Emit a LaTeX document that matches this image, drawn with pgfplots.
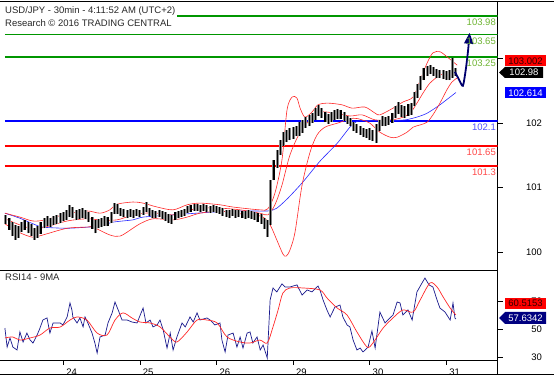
\documentclass[border=0pt]{standalone}
\usepackage{fontspec}
\setmainfont{Liberation Sans}
\usepackage{pgfplots}
\pgfplotsset{compat=1.18}
\usepackage{pgfplotstable}
\usetikzlibrary{arrows.meta}

\definecolor{lvlgreen}{RGB}{0,150,0}
\definecolor{lvlgreentxt}{RGB}{110,180,50}
\definecolor{lvlblue}{RGB}{0,0,255}
\definecolor{lvlbluetxt}{RGB}{80,80,255}
\definecolor{lvlred}{RGB}{255,0,0}
\definecolor{lvlredtxt}{RGB}{255,70,70}
\definecolor{bbred}{RGB}{255,40,40}
\definecolor{maBlue}{RGB}{40,40,255}
\definecolor{rsiblue}{RGB}{25,25,140}
\definecolor{navyarrow}{RGB}{0,0,110}
\definecolor{boxnavy}{RGB}{0,0,128}
\definecolor{titlegray}{RGB}{40,40,40}
\definecolor{bargray}{RGB}{140,140,140}

% hourly bars: i = hours from first bar, l = low, h = high
\pgfplotstableread{
i l h
0 100.26 100.42
1 100.15 100.36
2 100.04 100.29
3 99.97 100.24
4 100.01 100.22
5 100.11 100.29
6 100.15 100.33
7 100.09 100.29
8 100.04 100.26
9 99.97 100.18
10 100.01 100.22
11 100.08 100.29
12 100.18 100.36
13 100.22 100.40
14 100.20 100.36
15 100.24 100.40
16 100.26 100.42
17 100.27 100.45
18 100.31 100.47
19 100.33 100.51
20 100.38 100.60
21 100.36 100.56
22 100.33 100.51
23 100.35 100.52
24 100.36 100.54
25 100.35 100.51
26 100.29 100.47
27 100.17 100.38
28 100.09 100.33
29 100.18 100.35
30 100.20 100.36
31 100.22 100.40
32 100.22 100.38
33 100.27 100.47
34 100.44 100.63
35 100.44 100.61
36 100.40 100.54
37 100.38 100.52
38 100.36 100.51
39 100.38 100.52
40 100.36 100.51
41 100.40 100.52
42 100.38 100.51
43 100.42 100.56
44 100.47 100.65
45 100.40 100.54
46 100.36 100.51
47 100.36 100.49
48 100.38 100.51
49 100.35 100.49
50 100.31 100.47
51 100.27 100.44
52 100.26 100.42
53 100.33 100.47
54 100.36 100.49
55 100.38 100.51
56 100.40 100.52
57 100.45 100.58
58 100.47 100.60
59 100.49 100.61
60 100.49 100.61
61 100.47 100.60
62 100.49 100.61
63 100.47 100.60
64 100.45 100.58
65 100.47 100.60
66 100.45 100.58
67 100.44 100.56
68 100.40 100.54
69 100.38 100.51
70 100.36 100.51
71 100.40 100.52
72 100.36 100.51
73 100.38 100.51
74 100.36 100.49
75 100.35 100.49
76 100.36 100.51
77 100.35 100.49
78 100.33 100.47
79 100.29 100.45
80 100.26 100.44
81 100.17 100.36
82 100.02 100.33
83 100.24 101.04
84 101.04 101.40
85 101.26 101.58
86 101.49 101.76
87 101.65 101.90
88 101.72 101.94
89 101.76 101.98
90 101.78 101.99
91 101.83 102.01
92 101.83 102.08
93 101.89 102.12
94 101.98 102.17
95 102.01 102.21
96 102.07 102.24
97 102.12 102.33
98 102.19 102.39
99 102.15 102.33
100 102.08 102.26
101 102.05 102.23
102 102.08 102.26
103 102.12 102.30
104 102.14 102.31
105 102.14 102.30
106 102.10 102.26
107 102.05 102.19
108 102.01 102.15
109 101.92 102.08
110 101.89 102.05
111 101.85 102.01
112 101.81 101.98
113 101.80 101.96
114 101.76 101.98
115 101.74 101.94
116 101.71 102.05
117 101.92 102.12
118 102.01 102.19
119 102.01 102.17
120 102.03 102.19
121 102.07 102.24
122 102.15 102.37
123 102.23 102.44
124 102.17 102.39
125 102.15 102.37
126 102.19 102.41
127 102.21 102.42
128 102.37 102.62
129 102.51 102.76
130 102.66 102.91
131 102.83 103.05
132 102.91 103.08
133 102.94 103.10
134 102.91 103.07
135 102.87 103.03
136 102.87 103.01
137 102.85 103.01
138 102.83 102.99
139 102.83 103.01
140 102.87 103.23
141 102.91 103.05
}\candles

\begin{document}
\begin{tikzpicture}[x=1pt,y=1pt]
\useasboundingbox (0pt,0pt) rectangle (554pt,377pt);

% ---------------- price panel ----------------
\begin{axis}[
  name=main,
  at={(0pt,106.5pt)}, anchor=south west,
  scale only axis, width=497.5pt, height=269.5pt,
  xmin=-1.833, xmax=154.04, ymin=99.424, ymax=104.2485,
  axis x line*=top, axis y line*=right,
  axis line style={black, line width=0.8pt},
  xtick=\empty,
  ytick={99.750,100.906,102.064,103.228}, yticklabels={100,101,102,{}},
  tick align=outside, major tick length=5pt,
  tick style={black, line width=0.6pt},
  tick label style={font=\fontsize{9.5}{11}\selectfont, text=black},
  yticklabel style={anchor=east, xshift=43pt},
]
% level lines
\addplot[lvlgreen, line width=1.6pt] coordinates {(-0.27,103.98) (154.04,103.98)};
\addplot[lvlgreen, line width=1.6pt] coordinates {(-0.27,103.65) (154.04,103.65)};
\addplot[lvlgreen, line width=1.6pt] coordinates {(-0.27,103.25) (154.04,103.25)};
\addplot[lvlblue, line width=1.6pt] coordinates {(-0.27,102.1) (154.04,102.1)};
\addplot[lvlred, line width=1.6pt] coordinates {(-0.27,101.65) (154.04,101.65)};
\addplot[lvlred, line width=1.6pt] coordinates {(-0.27,101.3) (154.04,101.3)};

% long moving average (blue)
\addplot[maBlue, line width=0.6pt, smooth, tension=0.4] coordinates {
(-0.3,100.45)(4.4,100.36)(8.5,100.26)(11.6,100.20)(19.2,100.18)(25.4,100.20)(29.5,100.22)(33.6,100.29)(39.8,100.33)(43.0,100.38)(52.4,100.42)(64.9,100.47)(73.4,100.49)(82.1,100.49)(84.9,100.54)(88.4,100.72)(93.1,101.01)(98.4,101.38)(103.8,101.70)(107.8,101.99)(110.3,102.10)(114.1,102.11)(120.4,102.11)(125.1,102.12)(128.8,102.17)(132.0,102.24)(136.0,102.39)(141.0,102.61)};

% Bollinger bands
\addplot[bbred, line width=0.6pt, smooth, tension=0.5] coordinates {
(-0.3,100.45)(4.4,100.38)(8.5,100.31)(12.3,100.33)(19.2,100.44)(25.4,100.49)(29.5,100.45)(32.6,100.51)(34.8,100.61)(39.8,100.65)(43.0,100.63)(47.4,100.56)(52.4,100.51)(56.8,100.60)(60.8,100.63)(67.1,100.60)(71.2,100.56)(79.6,100.51)(82.1,100.53)(84.3,100.81)(86.5,101.40)(88.1,102.30)(89.7,102.53)(91.2,102.51)(92.2,102.33)(93.7,102.17)(95.9,102.26)(97.8,102.39)(100.9,102.42)(105.3,102.39)(108.5,102.33)(112.5,102.35)(115.7,102.24)(117.2,102.21)(121.3,102.33)(124.4,102.44)(127.6,102.53)(129.8,102.83)(132.0,103.14)(133.8,103.32)(136.0,103.34)(138.2,103.25)(141.4,103.10)};
\addplot[bbred, line width=0.6pt, smooth, tension=0.5] coordinates {
(-0.3,100.35)(4.4,100.24)(8.5,100.17)(12.3,100.20)(19.2,100.31)(25.4,100.35)(29.5,100.33)(34.8,100.33)(39.8,100.42)(43.0,100.45)(47.4,100.45)(52.4,100.42)(56.8,100.49)(60.8,100.54)(67.1,100.54)(73.4,100.51)(79.6,100.45)(82.1,100.42)(84.3,100.60)(86.5,100.95)(89.0,101.49)(92.2,101.90)(95.3,102.12)(98.4,102.26)(103.1,102.24)(107.8,102.19)(111.6,102.21)(115.7,102.12)(120.4,102.12)(123.5,102.15)(126.6,102.24)(128.8,102.42)(130.7,102.60)(132.9,102.78)(136.0,102.92)(139.2,102.98)(141.4,103.01)};
\addplot[bbred, line width=0.6pt, smooth, tension=0.5] coordinates {
(-0.3,100.26)(4.4,100.10)(8.5,100.02)(11.6,100.06)(19.2,100.18)(25.4,100.20)(27.3,100.20)(32.6,100.06)(35.8,100.04)(39.8,100.18)(42.0,100.26)(46.1,100.35)(52.4,100.33)(56.8,100.38)(60.8,100.45)(67.1,100.49)(71.2,100.45)(77.4,100.42)(80.6,100.38)(82.8,100.24)(84.9,99.97)(86.8,99.72)(87.8,99.68)(89.0,99.79)(90.6,100.11)(92.8,100.95)(95.3,101.54)(97.5,101.85)(100.0,101.99)(103.8,102.06)(108.8,102.15)(111.6,102.12)(114.1,102.06)(117.2,101.90)(120.4,101.81)(122.6,101.81)(125.7,101.90)(127.6,101.99)(129.8,102.03)(132.0,102.08)(133.8,102.21)(136.0,102.42)(138.2,102.66)(139.8,102.80)(141.4,102.87)};

% price bars (low to high): grey halo, then black bar
\addplot[draw=none, mark=none,
  error bars/.cd, y dir=plus, y explicit, error mark=none,
  error bar style={draw=bargray, line width=3.0pt}]
  table[x=i, y=l, y error expr=\thisrow{h}-\thisrow{l}] {\candles};
\addplot[draw=none, mark=none,
  error bars/.cd, y dir=plus, y explicit, error mark=none,
  error bar style={draw=black, line width=1.1pt}]
  table[x=i, y=l, y error expr=\thisrow{h}-\thisrow{l}] {\candles};

% projection arrow
\addplot[navyarrow, line width=1.8pt, smooth, tension=0.4,
  -{Triangle[length=11pt,width=9pt]}] coordinates {
(140.7,102.98)(142.0,102.84)(143.2,102.73)(144.1,103.02)(144.8,103.35)(145.3,103.68)};

% level labels
\node[anchor=north east, inner sep=1pt, text=lvlgreentxt, font=\fontsize{9.5}{11}\selectfont, xshift=-0.5pt, yshift=-2pt] at (axis cs:154.04,103.98) {103.98};
\node[anchor=north east, inner sep=1pt, text=lvlgreentxt, font=\fontsize{9.5}{11}\selectfont, xshift=-0.5pt, yshift=-2pt] at (axis cs:154.04,103.65) {103.65};
\node[anchor=north east, inner sep=1pt, text=lvlgreentxt, font=\fontsize{9.5}{11}\selectfont, xshift=-0.5pt, yshift=-2pt] at (axis cs:154.04,103.25) {103.25};
\node[anchor=north east, inner sep=1pt, text=lvlbluetxt, font=\fontsize{9.5}{11}\selectfont, xshift=-0.5pt, yshift=-2pt] at (axis cs:154.04,102.1) {102.1};
\node[anchor=north east, inner sep=1pt, text=lvlredtxt, font=\fontsize{9.5}{11}\selectfont, xshift=-0.5pt, yshift=-2pt] at (axis cs:154.04,101.65) {101.65};
\node[anchor=north east, inner sep=1pt, text=lvlredtxt, font=\fontsize{9.5}{11}\selectfont, xshift=-0.5pt, yshift=-2pt] at (axis cs:154.04,101.3) {101.3};
\end{axis}

% ---------------- RSI panel ----------------
\begin{axis}[
  name=rsi,
  at={(0pt,17pt)}, anchor=south west,
  scale only axis, width=497.5pt, height=89.5pt,
  xmin=-1.833, xmax=154.04, ymin=28.36, ymax=92.29,
  axis x line*=bottom, axis y line*=right,
  axis line style={black, line width=0.8pt},
  xtick={18,42,66,90,114,138}, xticklabels={24,25,26,29,30,31},
  ytick={30,50,70}, yticklabels={30,50,70},
  tick align=outside, major tick length=5pt,
  tick style={black, line width=0.6pt},
  tick label style={font=\fontsize{9.5}{11}\selectfont, text=black},
  yticklabel style={anchor=east, xshift=43pt},
  xticklabel style={anchor=north west, xshift=-0.5pt},
]
\addplot[rsiblue, line width=0.7pt] coordinates {
(-0.3,51.2)(0.4,37.6)(1.3,44.1)(2.2,37.6)(3.5,35.5)(4.4,48.4)(5.4,41.2)(6.6,47.6)(7.6,42.6)(8.5,40.5)(9.8,46.2)(10.7,51.2)(11.6,56.9)(12.9,58.4)(13.8,47.6)(14.8,54.8)(17.0,54.8)(17.9,53.4)(19.2,59.1)(20.1,69.1)(20.7,64.1)(21.0,59.1)(22.3,54.8)(23.2,58.4)(24.2,52.0)(24.8,59.1)(25.7,54.8)(27.0,47.6)(27.9,40.5)(28.6,33.3)(29.5,44.8)(31.1,46.2)(32.0,54.8)(33.3,62.0)(34.2,69.8)(35.2,64.1)(36.4,56.9)(38.0,56.9)(39.5,55.5)(41.1,54.8)(43.0,65.5)(43.9,54.8)(45.2,56.9)(46.1,52.0)(47.4,53.4)(48.3,56.9)(49.3,49.8)(50.5,36.9)(51.5,47.6)(52.4,35.5)(53.6,44.8)(55.2,54.8)(56.2,52.0)(57.7,59.1)(58.7,55.5)(59.9,62.0)(60.8,56.9)(63.0,58.4)(64.0,56.9)(65.5,53.4)(67.1,54.8)(67.7,42.6)(68.7,34.1)(69.6,46.2)(71.2,47.6)(72.4,37.6)(73.4,44.8)(74.3,36.9)(75.6,47.6)(76.5,48.4)(77.4,40.5)(78.7,44.8)(79.7,35.5)(80.6,39.1)(81.9,29.8)(82.8,71.2)(83.7,79.8)(84.9,77.0)(86.5,82.7)(87.5,80.5)(89.0,80.5)(91.2,82.0)(92.8,74.8)(94.4,78.4)(95.9,77.0)(97.8,81.2)(98.4,78.4)(99.4,71.2)(100.6,64.1)(101.6,59.1)(103.1,66.2)(104.7,67.6)(105.6,59.1)(106.9,53.4)(107.8,52.0)(108.8,42.6)(110.0,35.5)(111.0,36.9)(111.9,34.1)(113.5,37.6)(114.7,49.1)(115.7,36.9)(117.2,62.6)(118.8,54.8)(119.7,56.9)(121.3,60.5)(122.6,69.8)(123.5,69.1)(124.4,60.5)(126.0,64.1)(127.3,56.9)(128.8,77.0)(130.4,83.4)(131.3,86.9)(132.6,82.0)(133.8,80.5)(135.1,71.2)(136.0,65.5)(137.6,62.6)(139.2,56.9)(140.1,69.1)(140.7,58.4)(141.0,57.6)};
\addplot[bbred, line width=0.7pt, smooth, tension=0.5] coordinates {
(-0.3,44.1)(2.2,44.8)(4.4,42.6)(7.6,44.1)(10.7,46.2)(13.8,51.2)(17.0,51.9)(20.1,56.9)(22.3,59.1)(25.4,56.9)(28.6,47.6)(31.7,46.2)(34.2,56.9)(36.7,62.0)(39.5,58.4)(42.0,55.5)(45.2,54.8)(48.3,52.0)(51.4,44.8)(53.6,41.2)(56.8,48.4)(59.9,56.9)(63.0,56.9)(66.2,54.8)(69.3,44.8)(73.4,41.2)(76.5,40.5)(79.6,42.6)(81.9,40.5)(83.7,52.0)(85.3,64.1)(86.8,76.2)(89.0,79.8)(93.1,79.8)(98.4,78.4)(100.6,72.7)(103.8,65.5)(106.9,60.5)(110.0,48.4)(113.2,37.6)(115.0,40.5)(118.2,51.2)(121.3,58.4)(124.4,64.1)(127.6,62.6)(129.8,71.2)(132.9,83.4)(135.1,80.5)(137.0,73.4)(139.2,65.5)(141.0,60.5)};
\draw[black, line width=0.8pt] (rel axis cs:0,1) -- (rel axis cs:1,1);
\end{axis}

% frame pieces
\draw[black, line width=0.8pt] (0pt,376pt) -- (554pt,376pt);
\draw[black, line width=0.8pt] (0pt,3pt) -- (554pt,3pt);
\draw[black, line width=0.8pt] (497.5pt,17pt) -- (497.5pt,3pt);

% value boxes on the right scale
\fill[lvlred] (505pt,310.5pt) rectangle (546pt,321.5pt);
\node[font=\fontsize{9.5}{11}\selectfont, text=black!80!red] at (525.5pt,316pt) {103.002};
\fill[black] (499pt,304.5pt) -- (505pt,310pt) -- (543pt,310pt) -- (543pt,299pt) -- (505pt,299pt) -- cycle;
\node[font=\fontsize{9.5}{11}\selectfont, text=white] at (524pt,304.5pt) {102.98};
\fill[lvlblue] (505pt,278.5pt) rectangle (546pt,289.5pt);
\node[font=\fontsize{9.5}{11}\selectfont, text=white] at (525.5pt,284pt) {102.614};
\fill[lvlred] (505pt,68pt) rectangle (546pt,79pt);
\node[font=\fontsize{9.5}{11}\selectfont, text=black!80!red] at (525.5pt,73.5pt) {60.5153};
\fill[boxnavy] (499pt,59pt) -- (505pt,65pt) -- (546pt,65pt) -- (546pt,53pt) -- (505pt,53pt) -- cycle;
\node[font=\fontsize{9.5}{11}\selectfont, text=white] at (525.5pt,59pt) {57.6342};

% titles
\node[anchor=north west, fill=white, inner sep=2pt, align=left, text=titlegray,
  font=\fontsize{9.5}{12.7}\selectfont] at (3pt,372.6pt) {USD/JPY - 30min - 4:11:52 AM (UTC+2)\\Research \textcopyright{} 2016 TRADING CENTRAL};
\node[anchor=west, inner sep=0pt, text=titlegray, font=\fontsize{9.5}{11}\selectfont] at (5pt,100pt) {RSI14 - 9MA};
\end{tikzpicture}
\end{document}
